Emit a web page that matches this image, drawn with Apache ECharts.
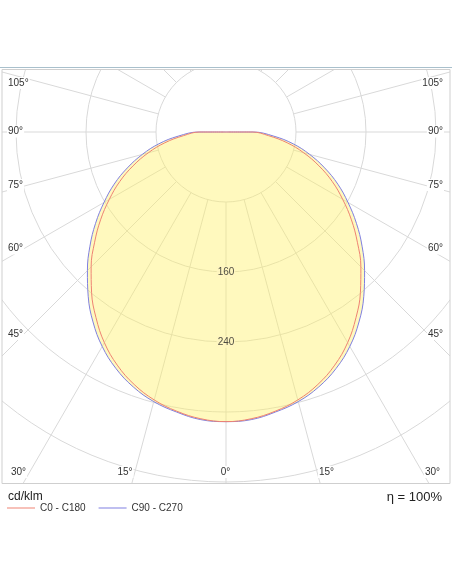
<!DOCTYPE html>
<html>
<head>
<meta charset="utf-8">
<title></title>
<style>
  body{margin:0;background:#fff;}
  #div{width:452px;height:584px;}
</style>
</head>
<body>
<div id="div"></div>
<script src="https://cdn.jsdelivr.net/npm/echarts@6/dist/echarts.min.js"></script>
<script>
// gamma angles (deg from nadir) and intensities in cd/klm
var gamma = [0, 5, 10, 15, 20, 25, 30, 35, 40, 45, 50, 55, 60, 65, 70, 75, 80, 85, 90];
var c0c180 = [331, 329, 324, 317, 307, 294, 278, 259, 239, 218, 196, 175, 154, 134, 113, 92, 71, 49, 30];
var c90c270 = [331, 330, 325, 319, 310, 298, 283, 265, 245, 224, 203, 182, 161, 141, 120, 99, 78, 55, 31];
var ringLabels = [160, 240];
var sideLabels = ['105°', '90°', '75°', '60°', '45°'];
var sideLabelY = [83, 131.5, 185, 248.5, 334];
var bottomLabels = ['30°', '15°', '0°', '15°', '30°'];
var bottomLabelX = [10, 125, 225.5, 326.5, 441];
var bottomAlign = ['left', 'center', 'center', 'center', 'right'];

var font = '"Liberation Sans", Arial, sans-serif';
var gridColor = '#d9d9d9';
var redColor = '#ee8272';
var blueColor = '#7f7fe0';

// closed outline: centre -> left half (C180/C270) -> nadir -> right half (C0/C90) -> centre
function curve(vals) {
    var pts = [[0, 180]];
    for (var i = gamma.length - 1; i >= 0; i--) pts.push([vals[i], 360 - gamma[i]]);
    for (var j = 1; j < gamma.length; j++) pts.push([vals[j], gamma[j]]);
    pts.push([0, 180]);
    return pts;
}

var series = [];
// spokes every 15 deg, starting at the first ring
for (var a = 0; a < 360; a += 15) {
    series.push({
        type: 'line', coordinateSystem: 'polar', silent: true, z: 1,
        showSymbol: false, symbol: 'none',
        lineStyle: {color: gridColor, width: 1},
        data: [[80, a], [480, a]]
    });
}
series.push({
    type: 'line', coordinateSystem: 'polar', silent: true, z: 2,
    symbol: 'none', showSymbol: false, smooth: 0.4, smoothMonotone: null,
    lineStyle: {width: 0, opacity: 0},
    areaStyle: {color: 'rgba(255,240,100,0.42)', opacity: 1},
    data: curve(c90c270)
});
series.push({
    name: 'C0 - C180', type: 'line', coordinateSystem: 'polar', z: 4,
    symbol: 'none', showSymbol: false, smooth: 0.4, smoothMonotone: null,
    itemStyle: {color: redColor},
    lineStyle: {color: redColor, width: 1},
    data: curve(c0c180)
});
series.push({
    name: 'C90 - C270', type: 'line', coordinateSystem: 'polar', z: 3,
    symbol: 'none', showSymbol: false, smooth: 0.4, smoothMonotone: null,
    itemStyle: {color: blueColor},
    lineStyle: {color: blueColor, width: 1},
    data: curve(c90c270)
});
series.push({
    type: 'scatter', coordinateSystem: 'polar', z: 5, silent: true,
    symbolSize: 1, itemStyle: {color: 'rgba(0,0,0,0)'},
    label: {
        show: true, position: 'inside', color: '#222', fontSize: 10, fontFamily: font,
        backgroundColor: '#fff6c0', padding: [1, 1],
        formatter: function (p) { return p.value[0]; }
    },
    data: ringLabels.map(function (v) { return [v, 0]; })
});

var graphics = [
    {type: 'rect', z: 100, silent: true, shape: {x: 0, y: 0, width: 452, height: 69}, style: {fill: '#fff'}},
    {type: 'rect', z: 100, silent: true, shape: {x: 0, y: 484, width: 452, height: 100}, style: {fill: '#fff'}},
    {type: 'rect', z: 100, silent: true, shape: {x: 0, y: 0, width: 2, height: 584}, style: {fill: '#fff'}},
    {type: 'rect', z: 100, silent: true, shape: {x: 450, y: 0, width: 2, height: 584}, style: {fill: '#fff'}},
    {type: 'line', z: 101, silent: true, shape: {x1: 0, y1: 67.5, x2: 452, y2: 67.5}, style: {stroke: '#a9c0cc', lineWidth: 1}},
    {type: 'rect', z: 101, silent: true, shape: {x: 2, y: 69.5, width: 448, height: 414}, style: {fill: null, stroke: '#cfcfcf', lineWidth: 1}},
    {type: 'text', z: 110, x: 8, y: 497, style: {text: 'cd/klm', font: '12px ' + font, fill: '#222', textVerticalAlign: 'middle'}},
    {type: 'text', z: 110, x: 442, y: 497, style: {text: 'η = 100%', font: '13px ' + font, fill: '#222', textAlign: 'right', textVerticalAlign: 'middle'}}
];
sideLabels.forEach(function (t, i) {
    graphics.push({type: 'text', z: 110, x: 7, y: sideLabelY[i],
        style: {text: t, font: '10px ' + font, fill: '#333', textVerticalAlign: 'middle', backgroundColor: '#fff', padding: [1, 1]}});
    graphics.push({type: 'text', z: 110, x: 444, y: sideLabelY[i],
        style: {text: t, font: '10px ' + font, fill: '#333', textAlign: 'right', textVerticalAlign: 'middle', backgroundColor: '#fff', padding: [1, 1]}});
});
bottomLabels.forEach(function (t, i) {
    graphics.push({type: 'text', z: 110, x: bottomLabelX[i], y: 472,
        style: {text: t, font: '10px ' + font, fill: '#333', textAlign: bottomAlign[i], textVerticalAlign: 'middle', backgroundColor: '#fff', padding: [1, 1]}});
});

var chartDom = document.getElementById('div');
var myChart = echarts.init(chartDom);
var option = {
    animation: false,
    polar: {center: [226, 132], radius: 420},
    radiusAxis: {
        type: 'value', min: 0, max: 480, interval: 80,
        axisLine: {show: false}, axisTick: {show: false}, axisLabel: {show: false},
        splitLine: {show: true, lineStyle: {color: gridColor, width: 1}}
    },
    angleAxis: {
        type: 'value', min: 0, max: 360, startAngle: 270, clockwise: false,
        axisLine: {show: false}, axisTick: {show: false}, axisLabel: {show: false},
        splitLine: {show: false}
    },
    legend: {
        data: ['C0 - C180', 'C90 - C270'],
        left: 7, top: 503, z: 200, padding: 0,
        icon: 'rect', itemWidth: 28, itemHeight: 1, itemGap: 13,
        textStyle: {fontSize: 10, fontFamily: font, color: '#333'}
    },
    graphic: graphics,
    series: series
};
option && myChart.setOption(option);
</script>
</body>
</html>
